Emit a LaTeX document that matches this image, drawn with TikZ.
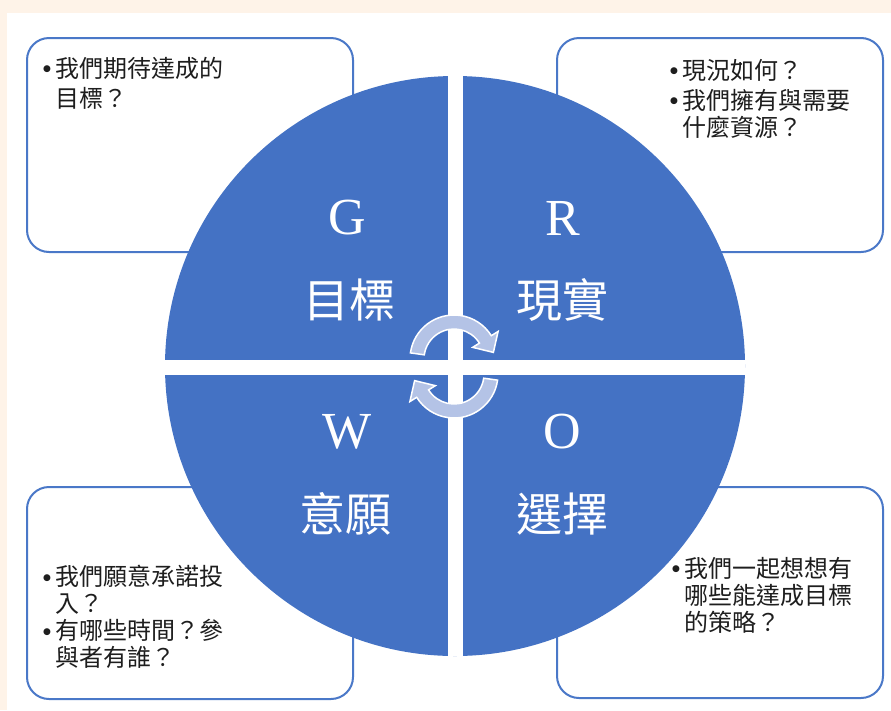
\documentclass[tikz,border=0pt]{standalone}
\usepackage{fontspec}
\setmainfont{Noto Sans CJK TC}
\newfontfamily\serifL{Liberation Serif}
\newfontfamily\bulfont{DejaVu Sans}
\usetikzlibrary{calc}
\definecolor{cblue}{HTML}{4472C4}
\definecolor{bordblue}{HTML}{4A78C8}
\definecolor{arrowfill}{HTML}{B4C3E6}
\definecolor{peach}{HTML}{FEF3E8}
\definecolor{txt}{HTML}{1E1E1E}
\newcommand{\bl}{\makebox[12pt][l]{\raisebox{5.5pt}{\bulfont\fontsize{9}{9}\selectfont ●}}}
\newcommand{\ind}{\hspace*{12pt}}
\tikzset{
  qbox/.style={draw=bordblue, line width=2pt, fill=white, rounded corners=22pt},
  qtext/.style={anchor=north west, inner sep=0pt, align=left, text=txt,
    font=\fontsize{24}{27}\selectfont},
  bigletter/.style={inner sep=0pt, text=white, font=\serifL\fontsize{52}{52}\selectfont},
  bigword/.style={inner sep=0pt, text=white, font=\fontsize{46}{46}\selectfont},
  cyc/.style={fill=arrowfill, draw=white, line width=1.5pt, line join=miter}
}
\begin{document}
\begin{tikzpicture}[x=1pt, y=-1pt]
\useasboundingbox (0,0) rectangle (891,710);
\fill[peach] (0,0) rectangle (891,710);
\fill[white] (7,13) rectangle (891,710);

% question boxes
\draw[qbox] (27,38) rectangle (353,252);
\draw[qbox] (557,38) rectangle (883,252);
\draw[qbox] (27,487) rectangle (353,699);
\draw[qbox] (557,487) rectangle (883,698);

% circle
\coordinate (C) at (455,366);
\fill[cblue] (C) circle[radius=290];
\begin{scope}
  \clip (C) circle[radius=290];
  \fill[white] (447.5,60) rectangle (462.5,680);
  \fill[white] (150,360) rectangle (760,375);
\end{scope}

% cycle arrows
\coordinate (U) at (454,359);
\coordinate (L) at (454,374);
\fill[cyc] ($(U)+(-172:44)$) arc[start angle=-172, end angle=-32, radius=44]
  -- ($(U)+(-32:52)$) -- ($(U)+(-32:37)+(8,13)$) -- ($(U)+(-32:22)$)
  -- ($(U)+(-32:30)$) arc[start angle=-32, end angle=-172, radius=30] -- cycle;
\draw[cyc] ($(L)+(8:44)$) arc[start angle=8, end angle=148, radius=44]
  -- ($(L)+(148:52)$) -- ($(L)+(148:37)+(-8,-13)$) -- ($(L)+(148:22)$)
  -- ($(L)+(148:30)$) arc[start angle=148, end angle=8, radius=30] -- cycle;

% circle labels
\node[bigletter] (g) at (347,218) {G};
\node[bigword] (gw) at (349,300) {目標};
\node[bigletter] (r) at (563,218) {R};
\node[bigword] (rw) at (562,300) {現實};
\node[bigletter] (w) at (347,432) {W};
\node[bigword] (ww) at (345,514) {意願};
\node[bigletter] (o) at (562,432) {O};
\node[bigword] (ow) at (562,514) {選擇};

% box texts
\node[qtext] (tg) at (43,57) {\bl 我們期待達成的\\[3pt]\ind 目標？};
\node[qtext] (tr) at (670,59) {\bl 現況如何？\\[3pt]\bl 我們擁有與需要\\\ind 什麼資源？};
\node[qtext] (tw) at (43,565) {\bl 我們願意承諾投\\\ind 入？\\\bl 有哪些時間？參\\\ind 與者有誰？};
\node[qtext] (to) at (672,557) {\bl 我們一起想想有\\\ind 哪些能達成目標\\\ind 的策略？};
\end{tikzpicture}
\end{document}
